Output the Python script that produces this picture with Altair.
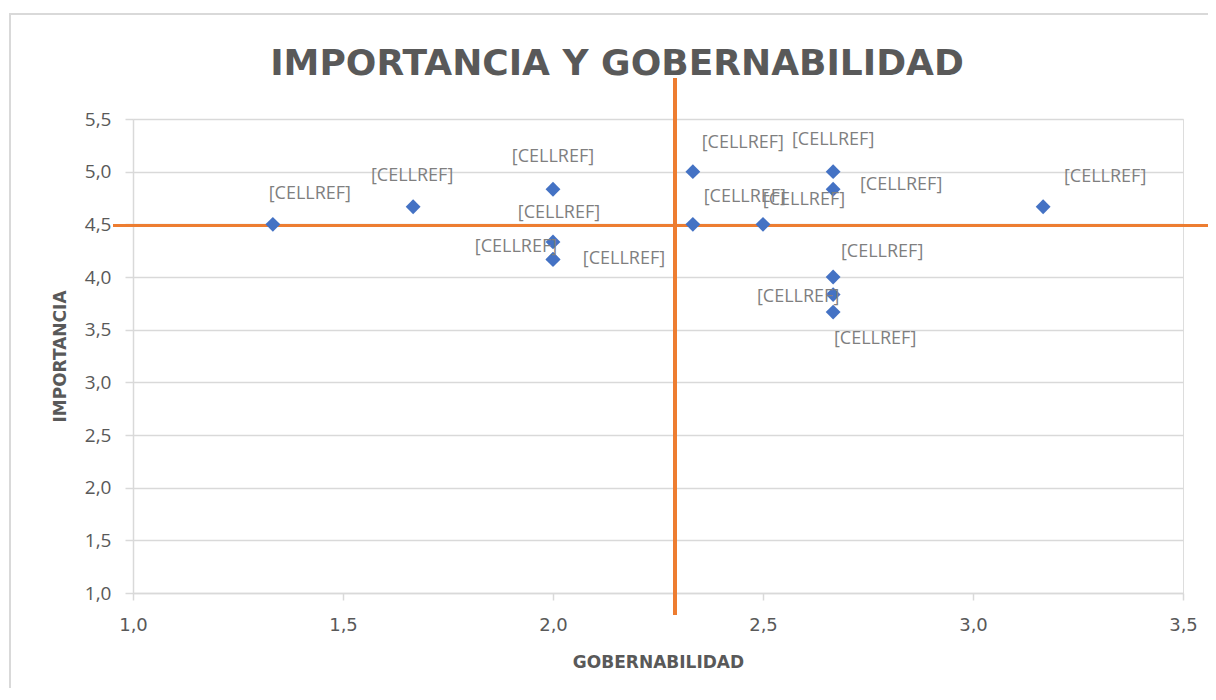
import altair as alt
import pandas as pd

# ---- data ----
gobernabilidad = [1.333, 1.667, 2.0, 2.0, 2.0, 2.0, 2.333, 2.333, 2.5,
                  2.667, 2.667, 2.667, 2.667, 2.667, 3.167]
importancia = [4.5, 4.667, 4.833, 4.333, 4.167, 4.167, 5.0, 4.5, 4.5,
               5.0, 4.833, 4.0, 3.833, 3.667, 4.667]
etiquetas = ["[CELLREF]"] * 15
titulo = "IMPORTANCIA Y GOBERNABILIDAD"

ref_gobernabilidad = 2.29
ref_importancia = 4.49

x_ticks = [1.0, 1.5, 2.0, 2.5, 3.0, 3.5]
y_ticks = [1.0, 1.5, 2.0, 2.5, 3.0, 3.5, 4.0, 4.5, 5.0, 5.5]

# label placement (style only: pixel offsets of each data label)
label_offsets = [(37, -30), (-1, -31), (0, -32), (6, -29), (-37, -12), (71, 0),
                 (50, -29), (52, -27), (41, -24), (0, -32), (68, -4),
                 (49, -25), (-35, 2), (42, 27), (62, -30)]

df = pd.DataFrame({
    "idx": list(range(len(gobernabilidad))),
    "g": gobernabilidad,
    "i": importancia,
    "lbl": etiquetas,
})

GRAY_TXT = "#595959"
GRID = "#d9d9d9"

x_scale = alt.Scale(domain=[1.0, 3.5], nice=False, zero=False)
y_scale = alt.Scale(domain=[1.0, 5.5], nice=False, zero=False)

x_enc = alt.X("g:Q", scale=x_scale, axis=alt.Axis(
    values=x_ticks, title="GOBERNABILIDAD", grid=False, labelFlush=False,
    labelExpr="replace(format(datum.value, '.1f'), '.', ',')",
    labelFont="DejaVu Sans", labelFontSize=18, labelColor=GRAY_TXT,
    labelPadding=16, tickSize=7, tickColor=GRID, domainColor=GRID,
    domainWidth=1.5, tickWidth=1.5,
    titleFont="DejaVu Sans", titleFontSize=17, titleFontWeight="bold",
    titleColor=GRAY_TXT, titleY=69, titleBaseline="middle"))
y_enc = alt.Y("i:Q", scale=y_scale, axis=alt.Axis(
    values=y_ticks, title="IMPORTANCIA", grid=True, gridColor=GRID,
    gridWidth=1.5,
    labelExpr="replace(format(datum.value, '.1f'), '.', ',')",
    labelFont="Open Sans", labelFontSize=19, labelColor=GRAY_TXT,
    labelPadding=14, tickSize=8, tickColor=GRID, domainColor=GRID,
    domainWidth=1.5, tickWidth=1.5,
    titleFont="DejaVu Sans", titleFontSize=17, titleFontWeight="bold",
    titleColor=GRAY_TXT, titleX=-73, titleBaseline="middle"))

base = alt.Chart(df)

border = base.mark_rect(fill=None, stroke=GRID, strokeWidth=2, clip=False).encode(
    x=alt.value(-123), x2=alt.value(1093), y=alt.value(-105), y2=alt.value(591))

title_mark = alt.Chart(pd.DataFrame({"t": [titulo]})).mark_text(
    font="DejaVu Sans", fontSize=36, fontWeight="bold", color=GRAY_TXT,
    align="center", baseline="alphabetic", clip=False
).encode(text="t:N", x=alt.value(484), y=alt.value(-44))

points = base.mark_point(shape="diamond", filled=True, color="#4472C4",
                         size=220, opacity=1).encode(x=x_enc, y=y_enc)

vline = base.mark_rule(color="#ED7D31", strokeWidth=3, clip=False).encode(
    x=alt.datum(ref_gobernabilidad), y=alt.value(-41), y2=alt.value(496))
hline = base.mark_rule(color="#ED7D31", strokeWidth=3, clip=False).encode(
    y=alt.datum(ref_importancia), x=alt.value(-20), x2=alt.value(1090))

label_layers = []
for k, (dx, dy) in enumerate(label_offsets):
    label_layers.append(
        base.transform_filter(alt.datum.idx == k).mark_text(
            font="Open Sans", fontSize=18, color="#7f7f7f",
            align="center", baseline="middle", dx=dx, dy=dy, clip=False
        ).encode(x="g:Q", y="i:Q", text="lbl:N")
    )

chart = alt.layer(border, title_mark, hline, vline, points, *label_layers).properties(
    width=1050, height=474,
    autosize=alt.AutoSizeParams(type="none"),
    padding={"left": 125, "top": 111, "right": 25, "bottom": 95},
).configure_view(stroke=None).configure(background="white")

chart.save("out.html", embed_options={"renderer": "svg", "actions": False})
